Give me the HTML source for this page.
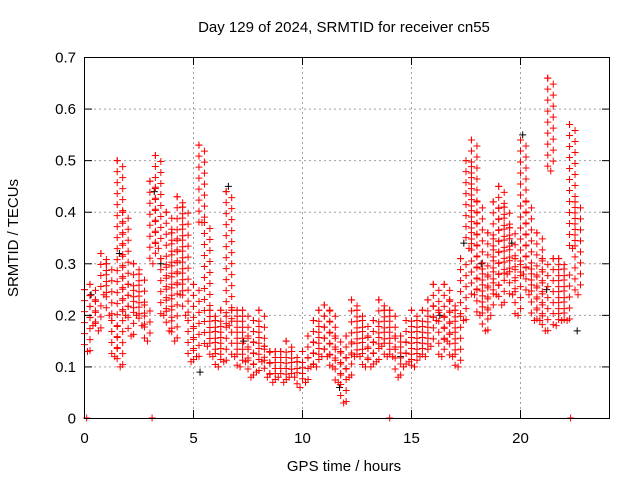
<!DOCTYPE html>
<html><head><meta charset="utf-8"><style>
body{margin:0;background:#fff}
svg{display:block;font-family:"Liberation Sans",sans-serif;font-size:15px}
</style></head><body>
<svg id="chart" width="640" height="480" viewBox="0 0 640 480">
<rect width="640" height="480" fill="#fff"/>
<text x="344" y="32" text-anchor="middle">Day 129 of 2024, SRMTID for receiver cn55</text>
<text x="344" y="471" text-anchor="middle">GPS time / hours</text>
<text transform="translate(18,238) rotate(-90)" text-anchor="middle">SRMTID / TECUs</text>
<g id="grid"></g>
<g id="marks"></g>
<rect x="84.5" y="57.5" width="525" height="361" fill="none" stroke="#000"/>
<g id="ticks"></g>
</svg>
<script>
const xTicks=[0,5,10,15,20];
const yTicks=[0,0.1,0.2,0.3,0.4,0.5,0.6,0.7];
const times=[0,0.25,0.5,0.75,1,1.25,1.5,1.75,2,2.25,2.5,2.75,3,3.25,3.5,3.75,4,4.25,4.5,4.75,5,5.25,5.5,5.75,6,6.25,6.5,6.75,7,7.25,7.5,7.75,8,8.25,8.5,8.75,9,9.25,9.5,9.75,10,10.25,10.5,10.75,11,11.25,11.5,11.75,12,12.25,12.5,12.75,13,13.25,13.5,13.75,14,14.25,14.5,14.75,15,15.25,15.5,15.75,16,16.25,16.5,16.75,17,17.25,17.5,17.75,18,18.25,18.5,18.75,19,19.25,19.5,19.75,20,20.25,20.5,20.75,21,21.25,21.5,21.75,22,22.25,22.5];
const lowVals=[0.13,0.18,0.17,0.24,0.2,0.12,0.1,0.2,0.16,0.2,0.18,0.15,0.3,0.33,0.2,0.17,0.15,0.24,0.2,0.11,0.12,0.38,0.14,0.12,0.1,0.11,0.18,0.12,0.1,0.11,0.08,0.09,0.11,0.08,0.07,0.08,0.07,0.08,0.08,0.06,0.07,0.1,0.1,0.12,0.12,0.1,0.07,0.03,0.08,0.12,0.12,0.1,0.1,0.11,0.14,0.12,0.12,0.08,0.1,0.11,0.1,0.12,0.12,0.14,0.19,0.12,0.15,0.12,0.1,0.19,0.33,0.24,0.2,0.17,0.2,0.24,0.22,0.28,0.24,0.2,0.28,0.24,0.19,0.19,0.17,0.48,0.18,0.19,0.19,0.33,0.24];
const highVals=[0.25,0.26,0.23,0.32,0.3,0.19,0.5,0.4,0.26,0.3,0.28,0.22,0.46,0.51,0.31,0.4,0.36,0.43,0.41,0.19,0.26,0.53,0.38,0.21,0.19,0.21,0.44,0.21,0.21,0.21,0.16,0.19,0.21,0.14,0.13,0.13,0.13,0.15,0.13,0.11,0.13,0.16,0.19,0.21,0.22,0.21,0.16,0.13,0.16,0.23,0.21,0.19,0.16,0.19,0.23,0.21,0.21,0.16,0.16,0.19,0.21,0.19,0.21,0.23,0.26,0.21,0.26,0.23,0.21,0.31,0.5,0.54,0.42,0.29,0.36,0.42,0.45,0.41,0.37,0.31,0.54,0.42,0.29,0.36,0.31,0.66,0.31,0.31,0.29,0.57,0.42];
const blackTimes=[0.3,1.6,3.2,3.5,5.3,6.6,7.3,11.7,14.5,16.3,17.4,18.2,19.6,20.1,21.2,22.6];
const blackVals=[0.24,0.32,0.44,0.3,0.09,0.45,0.15,0.06,0.12,0.2,0.34,0.3,0.34,0.55,0.25,0.17];
const zeroTimes=[0.1,3.1,14.0,22.3];
const X=t=>84.5+t*21.8, Y=v=>418.5-v*515.7;
const NS='http://www.w3.org/2000/svg';
function mk(tag,attrs,parent){const e=document.createElementNS(NS,tag);for(const k in attrs)e.setAttribute(k,attrs[k]);parent.appendChild(e);return e;}
const grid=document.getElementById('grid'),ticks=document.getElementById('ticks'),marks=document.getElementById('marks');
xTicks.forEach(t=>{
 if(t>0){const g=mk('line',{x1:X(t),x2:X(t),y1:57,y2:418,stroke:'#a0a0a0','stroke-dasharray':'2,3'},grid);
 
 }
 mk('line',{x1:X(t),x2:X(t),y1:418,y2:410,stroke:'#000'},ticks);
 mk('line',{x1:X(t),x2:X(t),y1:57,y2:65,stroke:'#000'},ticks);
 const l=mk('text',{x:X(t),y:443,'text-anchor':'middle'},ticks);l.textContent=t;
 
 
});
yTicks.forEach(v=>{
 if(v>0&&v<0.7){const g=mk('line',{x1:84,x2:610,y1:Y(v),y2:Y(v),stroke:'#a0a0a0','stroke-dasharray':'2,3'},grid);
 
 }
 mk('line',{x1:84,x2:92,y1:Y(v),y2:Y(v),stroke:'#000'},ticks);
 mk('line',{x1:610,x2:602,y1:Y(v),y2:Y(v),stroke:'#000'},ticks);
 const l=mk('text',{x:76,y:Y(v)+5,'text-anchor':'end'},ticks);l.textContent=v===0?'0':v.toFixed(1);
 
 
});
function plus(x,y,c){const p=mk('path',{d:`M${x-3.5},${y}h7M${x},${y-3.5}v7`,stroke:c,'stroke-width':1,fill:'none'},marks);
 
 }
blackTimes.forEach((t,i)=>plus(X(t),Y(blackVals[i]),'#000'));
times.forEach((t,i)=>{
 const y1=Y(highVals[i]),y0=Y(lowVals[i]);
 for(let k=0;k<2;k++){const x=X(t)+k*5.5;
  for(let y=y1+k*6;y<=y0;y+=11)plus(x,y,'#f00');}
 plus(X(t),y1,'#f00');plus(X(t)+3,y0,'#f00');
});
zeroTimes.forEach(t=>plus(X(t),418,'#f00'));
</script>
</body></html>
